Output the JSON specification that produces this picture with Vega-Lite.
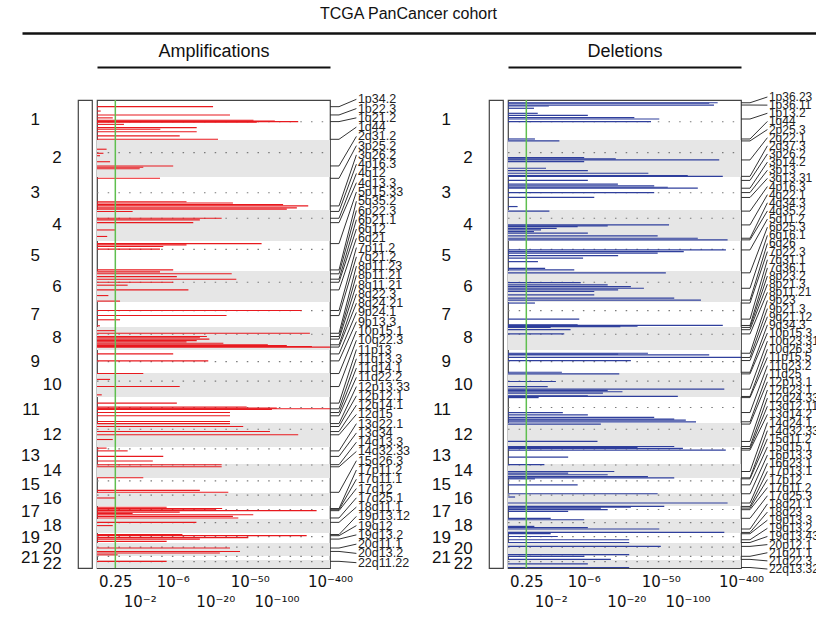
{
  "$schema": "https://vega.github.io/schema/vega-lite/v6.json",
  "background": "white",
  "padding": {"left": 21, "top": 5, "right": 0, "bottom": 0},
  "autosize": {"type": "pad"},
  "bounds": "flush",
  "spacing": 66,
  "config": {"font": "Liberation Sans", "view": {"stroke": null}, "axis": {"labelColor": "#111", "titleColor": "#111"}},
  "datasets": {
    "chroms": [
      {"chr": 1, "s": 0, "e": 246, "cen": 134},
      {"chr": 2, "s": 246, "e": 474, "cen": 324},
      {"chr": 3, "s": 474, "e": 677, "cen": 571},
      {"chr": 4, "s": 677, "e": 868, "cen": 728},
      {"chr": 5, "s": 868, "e": 1053, "cen": 919},
      {"chr": 6, "s": 1053, "e": 1244, "cen": 1122},
      {"chr": 7, "s": 1244, "e": 1397, "cen": 1297},
      {"chr": 8, "s": 1397, "e": 1539, "cen": 1442},
      {"chr": 9, "s": 1539, "e": 1681, "cen": 1611},
      {"chr": 10, "s": 1681, "e": 1828, "cen": 1730},
      {"chr": 11, "s": 1828, "e": 1988, "cen": 1893},
      {"chr": 12, "s": 1988, "e": 2136, "cen": 2027},
      {"chr": 13, "s": 2136, "e": 2241, "cen": 2148},
      {"chr": 14, "s": 2241, "e": 2327, "cen": 2247},
      {"chr": 15, "s": 2327, "e": 2419, "cen": 2345},
      {"chr": 16, "s": 2419, "e": 2499, "cen": 2432},
      {"chr": 17, "s": 2499, "e": 2579, "cen": 2521},
      {"chr": 18, "s": 2579, "e": 2666, "cen": 2602},
      {"chr": 19, "s": 2666, "e": 2727, "cen": 2688},
      {"chr": 20, "s": 2727, "e": 2807, "cen": 2752},
      {"chr": 21, "s": 2807, "e": 2832, "cen": 2810},
      {"chr": 22, "s": 2832, "e": 2881, "cen": 2842}
    ],
    "amp": [
      {"p": 41, "q": 18.8}, {"p": 68, "q": 0.1}, {"p": 92, "q": 29.6}, {"p": 110, "q": 0.5}, {"p": 125, "q": 55}, {"p": 129, "q": 96}, {"p": 133, "q": 176}, {"p": 137, "q": 60},
      {"p": 150, "q": 1.0}, {"p": 170, "q": 12}, {"p": 180, "q": 4.1}, {"p": 195, "q": 12}, {"p": 221, "q": 7.4}, {"p": 242, "q": 21.5},
      {"p": 303, "q": 0.28}, {"p": 328, "q": 0.18}, {"p": 343, "q": 0.08}, {"p": 380, "q": 0.4}, {"p": 406, "q": 6.1}, {"p": 414, "q": 2.29}, {"p": 423, "q": 2.0},
      {"p": 482, "q": 4.06}, {"p": 626, "q": 9.0}, {"p": 634, "q": 32}, {"p": 644, "q": 119}, {"p": 652, "q": 228}, {"p": 664, "q": 170}, {"p": 672, "q": 131},
      {"p": 686, "q": 1.5}, {"p": 728, "q": 23.7}, {"p": 738, "q": 13.1}, {"p": 755, "q": 10.9}, {"p": 800, "q": 0.6}, {"p": 840, "q": 0.3},
      {"p": 884, "q": 68}, {"p": 892, "q": 9.0}, {"p": 902, "q": 4.5}, {"p": 918, "q": 4.06}, {"p": 1046, "q": 6.1},
      {"p": 1058, "q": 4.06}, {"p": 1070, "q": 31}, {"p": 1087, "q": 6.8}, {"p": 1103, "q": 35}, {"p": 1122, "q": 6.1}, {"p": 1140, "q": 1.2}, {"p": 1169, "q": 9.5}, {"p": 1204, "q": 0.34}, {"p": 1238, "q": 0.81},
      {"p": 1296, "q": 192}, {"p": 1327, "q": 27}, {"p": 1353, "q": 0.81}, {"p": 1390, "q": 0.08},
      {"p": 1420, "q": 0.6}, {"p": 1436, "q": 238}, {"p": 1456, "q": 15.9}, {"p": 1464, "q": 13.1}, {"p": 1472, "q": 17}, {"p": 1481, "q": 12}, {"p": 1489, "q": 9}, {"p": 1497, "q": 24.8}, {"p": 1507, "q": 80}, {"p": 1512, "q": 131}, {"p": 1517, "q": 251}, {"p": 1521, "q": 400},
      {"p": 1563, "q": 6.1}, {"p": 1606, "q": 16.5},
      {"p": 1684, "q": 2.29}, {"p": 1720, "q": 0.4}, {"p": 1764, "q": 7.4}, {"p": 1815, "q": 0.13},
      {"p": 1866, "q": 6.8}, {"p": 1890, "q": 46}, {"p": 1897, "q": 101}, {"p": 1901, "q": 400}, {"p": 1905, "q": 89}, {"p": 1924, "q": 29.6}, {"p": 1944, "q": 29.6}, {"p": 1979, "q": 29.6},
      {"p": 1992, "q": 29.6}, {"p": 2010, "q": 42}, {"p": 2041, "q": 84.6}, {"p": 2061, "q": 176}, {"p": 2090, "q": 0.5},
      {"p": 2143, "q": 0.28}, {"p": 2160, "q": 1.2}, {"p": 2194, "q": 4.5},
      {"p": 2222, "q": 3.2}, {"p": 2245, "q": 23.7}, {"p": 2258, "q": 23.7}, {"p": 2325, "q": 2.29},
      {"p": 2403, "q": 13.1}, {"p": 2415, "q": 28.3}, {"p": 2450, "q": 0.6},
      {"p": 2507, "q": 5}, {"p": 2515, "q": 24}, {"p": 2522, "q": 20}, {"p": 2528, "q": 283}, {"p": 2537, "q": 7.4}, {"p": 2545, "q": 1.5}, {"p": 2553, "q": 54.7}, {"p": 2563, "q": 32}, {"p": 2573, "q": 36.9},
      {"p": 2600, "q": 11.9}, {"p": 2620, "q": 0.5},
      {"p": 2675, "q": 8}, {"p": 2682, "q": 219}, {"p": 2694, "q": 48}, {"p": 2703, "q": 13.1}, {"p": 2717, "q": 5},
      {"p": 2758, "q": 29.6}, {"p": 2779, "q": 38.6}, {"p": 2789, "q": 22.6}, {"p": 2800, "q": 0.7},
      {"p": 2840, "q": 5}
    ],
    "del": [
      {"p": 17, "q": 219}, {"p": 20, "q": 176}, {"p": 31, "q": 199}, {"p": 37, "q": 1.86}, {"p": 51, "q": 0.95}, {"p": 82, "q": 1.15}, {"p": 95, "q": 6.8}, {"p": 108, "q": 24.8}, {"p": 117, "q": 48}, {"p": 133, "q": 38.6}, {"p": 240, "q": 1.0},
      {"p": 252, "q": 2.75}, {"p": 355, "q": 6.1}, {"p": 362, "q": 15}, {"p": 369, "q": 228}, {"p": 379, "q": 6.1}, {"p": 420, "q": 1.66}, {"p": 435, "q": 6.8}, {"p": 451, "q": 36}, {"p": 466, "q": 101}, {"p": 470, "q": 250},
      {"p": 495, "q": 6.8}, {"p": 518, "q": 15.9}, {"p": 529, "q": 42}, {"p": 537, "q": 60}, {"p": 543, "q": 131}, {"p": 570, "q": 42}, {"p": 600, "q": 8.2}, {"p": 656, "q": 0.28},
      {"p": 684, "q": 1.9}, {"p": 769, "q": 62}, {"p": 775, "q": 12}, {"p": 779, "q": 5}, {"p": 790, "q": 2.5}, {"p": 800, "q": 1.34}, {"p": 810, "q": 0.95}, {"p": 820, "q": 6.8}, {"p": 837, "q": 46}, {"p": 851, "q": 131}, {"p": 861, "q": 283},
      {"p": 923, "q": 271}, {"p": 933, "q": 91}, {"p": 943, "q": 46}, {"p": 958, "q": 16}, {"p": 974, "q": 5.9}, {"p": 995, "q": 1.16}, {"p": 1036, "q": 1.6}, {"p": 1046, "q": 4.5},
      {"p": 1064, "q": 57}, {"p": 1124, "q": 5.5}, {"p": 1138, "q": 12}, {"p": 1149, "q": 22.6}, {"p": 1159, "q": 32}, {"p": 1169, "q": 16}, {"p": 1179, "q": 8.2}, {"p": 1200, "q": 8.2}, {"p": 1220, "q": 71}, {"p": 1232, "q": 142},
      {"p": 1250, "q": 1.0}, {"p": 1349, "q": 5.25}, {"p": 1384, "q": 5.0}, {"p": 1388, "q": 250}, {"p": 1392, "q": 27}, {"p": 1395, "q": 17},
      {"p": 1400, "q": 2.0}, {"p": 1414, "q": 4.0}, {"p": 1440, "q": 3.25},
      {"p": 1559, "q": 35.6}, {"p": 1565, "q": 16}, {"p": 1569, "q": 176}, {"p": 1585, "q": 400}, {"p": 1604, "q": 22.6}, {"p": 1676, "q": 3},
      {"p": 1686, "q": 16.5}, {"p": 1733, "q": 2.43}, {"p": 1764, "q": 1.78}, {"p": 1780, "q": 260}, {"p": 1788, "q": 12}, {"p": 1796, "q": 18}, {"p": 1805, "q": 10.5}, {"p": 1821, "q": 6.8}, {"p": 1825, "q": 78},
      {"p": 1832, "q": 1.2}, {"p": 1924, "q": 3.1}, {"p": 1938, "q": 6.8}, {"p": 1954, "q": 42}, {"p": 1964, "q": 71}, {"p": 1971, "q": 96}, {"p": 1981, "q": 125},
      {"p": 1995, "q": 9.9}, {"p": 2102, "q": 9}, {"p": 2133, "q": 71},
      {"p": 2140, "q": 27}, {"p": 2145, "q": 89}, {"p": 2155, "q": 270}, {"p": 2198, "q": 3.7},
      {"p": 2245, "q": 1.55}, {"p": 2287, "q": 14.4}, {"p": 2297, "q": 3.7}, {"p": 2307, "q": 12}, {"p": 2318, "q": 35.6}, {"p": 2326, "q": 71},
      {"p": 2332, "q": 1.0}, {"p": 2369, "q": 5},
      {"p": 2424, "q": 46}, {"p": 2444, "q": 0.2}, {"p": 2481, "q": 283},
      {"p": 2502, "q": 54.7}, {"p": 2506, "q": 22.6}, {"p": 2512, "q": 9.9}, {"p": 2522, "q": 12}, {"p": 2533, "q": 3.7}, {"p": 2575, "q": 2.0},
      {"p": 2584, "q": 6.1}, {"p": 2625, "q": 0.97}, {"p": 2633, "q": 6.8}, {"p": 2641, "q": 48}, {"p": 2662, "q": 260},
      {"p": 2670, "q": 2.0}, {"p": 2687, "q": 2.6}, {"p": 2707, "q": 21.6}, {"p": 2724, "q": 21.6},
      {"p": 2748, "q": 50}, {"p": 2799, "q": 21.6},
      {"p": 2809, "q": 6.1}, {"p": 2828, "q": 13.1},
      {"p": 2855, "q": 6.8}, {"p": 2878, "q": 21.6}
    ],
    "ampLab": [
      {"band": "1p34.2", "p": 41}, {"band": "1p22.3", "p": 92}, {"band": "1q21.2", "p": 133}, {"band": "1q44", "p": 242},
      {"band": "2q31.2", "p": 406}, {"band": "3p25.2", "p": 482}, {"band": "3q26.2", "p": 652}, {"band": "4p16.3", "p": 686},
      {"band": "4q12", "p": 728}, {"band": "4q13.3", "p": 755}, {"band": "5p15.33", "p": 884}, {"band": "5q35.2", "p": 1046},
      {"band": "6p22.3", "p": 1070}, {"band": "6p21.1", "p": 1103}, {"band": "6q12", "p": 1122}, {"band": "6q21", "p": 1169},
      {"band": "7p11.2", "p": 1296}, {"band": "7q21.2", "p": 1327}, {"band": "8p11.23", "p": 1436}, {"band": "8p11.21", "p": 1456},
      {"band": "8q11.21", "p": 1472}, {"band": "8q22.3", "p": 1507}, {"band": "8q24.21", "p": 1521}, {"band": "9p24.1", "p": 1563},
      {"band": "9p13.3", "p": 1606}, {"band": "10p15.1", "p": 1684}, {"band": "10q22.3", "p": 1764}, {"band": "11p13", "p": 1866},
      {"band": "11q13.3", "p": 1901}, {"band": "11q14.1", "p": 1924}, {"band": "11q22.2", "p": 1944}, {"band": "12p13.33", "p": 1992},
      {"band": "12p12.1", "p": 2010}, {"band": "12q14.1", "p": 2041}, {"band": "12q15", "p": 2061}, {"band": "13q22.1", "p": 2160},
      {"band": "13q34", "p": 2194}, {"band": "14q13.3", "p": 2245}, {"band": "14q32.33", "p": 2258}, {"band": "15q26.3", "p": 2415},
      {"band": "17p11.2", "p": 2515}, {"band": "17q11.1", "p": 2522}, {"band": "17q12", "p": 2528}, {"band": "17q25.1", "p": 2573},
      {"band": "18q11.1", "p": 2600}, {"band": "19p13.12", "p": 2675}, {"band": "19q12", "p": 2682}, {"band": "19q13.2", "p": 2703},
      {"band": "20q11.1", "p": 2758}, {"band": "20q13.2", "p": 2779}, {"band": "22q11.22", "p": 2840}
    ],
    "delLab": [
      {"band": "1p36.23", "p": 17}, {"band": "1p36.11", "p": 31}, {"band": "1p13.2", "p": 117}, {"band": "1q44", "p": 240},
      {"band": "2p25.3", "p": 252}, {"band": "2q22.1", "p": 369}, {"band": "2q37.3", "p": 470}, {"band": "3p26.2", "p": 495},
      {"band": "3p14.2", "p": 543}, {"band": "3p13", "p": 570}, {"band": "3q13.31", "p": 600}, {"band": "4p16.3", "p": 684},
      {"band": "4q22.1", "p": 769}, {"band": "4q34.3", "p": 851}, {"band": "4q35.2", "p": 861}, {"band": "5q11.2", "p": 923},
      {"band": "6p25.3", "p": 1064}, {"band": "6q16.1", "p": 1159}, {"band": "6q26", "p": 1232}, {"band": "7p22.3", "p": 1250},
      {"band": "7q31.1", "p": 1349}, {"band": "7q36.1", "p": 1388}, {"band": "8p23.2", "p": 1400}, {"band": "8p21.3", "p": 1414},
      {"band": "8p11.21", "p": 1440}, {"band": "9p23", "p": 1559}, {"band": "9p21.3", "p": 1585}, {"band": "9q21.12", "p": 1604},
      {"band": "9q34.3", "p": 1676}, {"band": "10p15.3", "p": 1686}, {"band": "10q23.31", "p": 1780}, {"band": "10q26.3", "p": 1825},
      {"band": "11p15.5", "p": 1832}, {"band": "11q23.2", "p": 1924}, {"band": "11q25", "p": 1981}, {"band": "12p13.1", "p": 1995},
      {"band": "12q23.1", "p": 2102}, {"band": "12q24.33", "p": 2133}, {"band": "13q12.11", "p": 2145}, {"band": "13q14.2", "p": 2155},
      {"band": "14q24.1", "p": 2287}, {"band": "14q32.33", "p": 2326}, {"band": "15q11.2", "p": 2332}, {"band": "15q15.1", "p": 2369},
      {"band": "16p13.3", "p": 2424}, {"band": "16q23.1", "p": 2481}, {"band": "17p13.1", "p": 2502}, {"band": "17p12", "p": 2512},
      {"band": "17q11.2", "p": 2522}, {"band": "17q25.3", "p": 2575}, {"band": "18q21.1", "p": 2641}, {"band": "18q23", "p": 2662},
      {"band": "19p13.3", "p": 2670}, {"band": "19q13.2", "p": 2707}, {"band": "19q13.43", "p": 2724}, {"band": "20p12.1", "p": 2748},
      {"band": "21q21.1", "p": 2809}, {"band": "21q22.3", "p": 2828}, {"band": "22q13.32", "p": 2878}
    ]
  },
  "vconcat": [
    {
      "width": 794, "height": 1,
      "data": {"values": [{}]},
      "mark": {"type": "text", "text": ""},
      "encoding": {
        "x": {"datum": 0, "type": "quantitative", "scale": {"domain": [0, 1]},
          "axis": {"orient": "top", "labels": false, "ticks": false, "grid": false, "domainWidth": 2.5, "domainColor": "#111",
            "title": "TCGA PanCancer cohort", "titleFontSize": 16, "titleFontWeight": "normal", "titlePadding": 12, "titleX": 386}}
      }
    },
    {
      "spacing": 0, "bounds": "flush",
      "hconcat": [
        {
          "width": 56, "height": 468,
          "data": {"name": "chroms"},
          "transform": [{"calculate": "(datum.s + datum.e) / 2", "as": "mid"}],
          "layer": [
            {"transform": [{"filter": "datum.chr % 2 == 1"}],
             "mark": {"type": "text", "align": "right", "baseline": "middle", "fontSize": 17, "color": "#111"},
             "encoding": {"y": {"field": "mid", "type": "quantitative", "scale": {"domain": [0, 2881], "reverse": true, "nice": false, "zero": false}, "axis": null},
               "x": {"datum": 0.32, "type": "quantitative", "scale": {"domain": [0, 1]}, "axis": null},
               "text": {"field": "chr"}}},
            {"transform": [{"filter": "datum.chr % 2 == 0"}],
             "mark": {"type": "text", "align": "right", "baseline": "middle", "fontSize": 17, "color": "#111"},
             "encoding": {"y": {"field": "mid", "type": "quantitative", "axis": null},
               "x": {"datum": 0.71, "type": "quantitative", "axis": null},
               "text": {"field": "chr"}}}
          ]
        },
        {
          "width": 14, "height": 468,
          "view": {"stroke": "#444", "strokeWidth": 1.2},
          "data": {"values": [{}]},
          "mark": {"type": "text", "text": ""},
          "encoding": {}
        },
        {
          "width": 5, "height": 468,
          "data": {"values": [{}]},
          "mark": {"type": "text", "text": ""},
          "encoding": {}
        },
        {
          "width": 233, "height": 468,
          "view": {"stroke": "#444", "strokeWidth": 1.2},
          "resolve": {"axis": {"x": "independent"}},
          "layer": [
            {"data": {"name": "chroms"}, "transform": [{"filter": "datum.chr % 2 == 0"}],
             "mark": {"type": "rect", "color": "#e6e6e6"},
             "encoding": {
               "y": {"field": "s", "type": "quantitative", "scale": {"domain": [0, 2881], "reverse": true, "nice": false, "zero": false}, "axis": null},
               "y2": {"field": "e"},
               "x": {"datum": 0, "type": "quantitative", "scale": {"type": "symlog", "constant": 1, "domain": [0, 400], "nice": false}, "axis": null},
               "x2": {"datum": 400}}},
            {"data": {"name": "chroms"},
             "mark": {"type": "rule", "color": "#7a7a7a", "strokeDash": [1.5, 9.2], "strokeWidth": 1.2},
             "encoding": {"y": {"field": "cen", "type": "quantitative", "axis": null},
               "x": {"datum": 0, "type": "quantitative", "axis": null}, "x2": {"datum": 400}}},
            {"data": {"name": "amp"},
             "mark": {"type": "rule", "color": "#e8191e", "strokeWidth": 1.1},
             "encoding": {"y": {"field": "p", "type": "quantitative", "axis": null},
               "x": {"field": "q", "type": "quantitative",
                 "axis": {"values": [0.602, 2, 6, 20, 50, 100, 400], "domain": false, "ticks": false, "grid": false, "title": null,
                   "labelFont": "DejaVu Sans", "labelFontSize": 15, "labelPadding": 6, "labelLineHeight": 20, "labelFlush": false, "labelOverlap": false, "labelBound": false,
                   "labelExpr": "datum.value == 0.602 ? '0.25' : datum.value == 2 ? ['', '10⁻²'] : datum.value == 6 ? '10⁻⁶' : datum.value == 20 ? ['', '10⁻²⁰'] : datum.value == 50 ? '10⁻⁵⁰' : datum.value == 100 ? ['', '10⁻¹⁰⁰'] : '10⁻⁴⁰⁰'"}},
               "x2": {"datum": 0}}},
            {"data": {"values": [{}]},
             "mark": {"type": "rule", "color": "#5fbf4f", "strokeWidth": 1.5},
             "encoding": {"x": {"datum": 0.602, "type": "quantitative",
               "axis": {"orient": "top", "offset": 33, "labels": false, "ticks": false, "grid": false, "domainWidth": 2, "domainColor": "#111",
                 "title": "Amplifications", "titleFontSize": 18, "titleFontWeight": "normal", "titlePadding": 7}}}}
          ]
        },
        {
          "width": 30, "height": 468,
          "data": {"name": "ampLab"},
          "transform": [
            {"window": [{"op": "row_number", "as": "r"}], "sort": [{"field": "p"}]},
            {"calculate": "-4.3 + (datum.r - 1) * 57.05", "as": "slot"}
          ],
          "layer": [
            {"mark": {"type": "rule", "color": "#333", "strokeWidth": 1},
             "encoding": {"y": {"field": "p", "type": "quantitative", "scale": {"domain": [0, 2881], "reverse": true, "nice": false, "zero": false}, "axis": null},
               "x": {"datum": 0, "type": "quantitative", "scale": {"domain": [0, 1]}, "axis": null}, "x2": {"datum": 0.3}}},
            {"mark": {"type": "rule", "color": "#333", "strokeWidth": 1},
             "encoding": {"y": {"field": "p", "type": "quantitative", "axis": null}, "y2": {"field": "slot"},
               "x": {"datum": 0.3, "type": "quantitative", "axis": null}, "x2": {"datum": 0.88}}},
            {"mark": {"type": "text", "align": "left", "baseline": "middle", "fontSize": 12.5, "color": "#222"},
             "encoding": {"y": {"field": "slot", "type": "quantitative", "axis": null},
               "x": {"datum": 0.93, "type": "quantitative", "axis": null}, "text": {"field": "band"}}}
          ]
        },
        {
          "width": 73, "height": 468,
          "data": {"values": [{}]},
          "mark": {"type": "text", "text": ""},
          "encoding": {}
        },
        {
          "width": 56, "height": 468,
          "data": {"name": "chroms"},
          "transform": [{"calculate": "(datum.s + datum.e) / 2", "as": "mid"}],
          "layer": [
            {"transform": [{"filter": "datum.chr % 2 == 1"}],
             "mark": {"type": "text", "align": "right", "baseline": "middle", "fontSize": 17, "color": "#111"},
             "encoding": {"y": {"field": "mid", "type": "quantitative", "scale": {"domain": [0, 2881], "reverse": true, "nice": false, "zero": false}, "axis": null},
               "x": {"datum": 0.32, "type": "quantitative", "scale": {"domain": [0, 1]}, "axis": null},
               "text": {"field": "chr"}}},
            {"transform": [{"filter": "datum.chr % 2 == 0"}],
             "mark": {"type": "text", "align": "right", "baseline": "middle", "fontSize": 17, "color": "#111"},
             "encoding": {"y": {"field": "mid", "type": "quantitative", "axis": null},
               "x": {"datum": 0.71, "type": "quantitative", "axis": null},
               "text": {"field": "chr"}}}
          ]
        },
        {
          "width": 14, "height": 468,
          "view": {"stroke": "#444", "strokeWidth": 1.2},
          "data": {"values": [{}]},
          "mark": {"type": "text", "text": ""},
          "encoding": {}
        },
        {
          "width": 5, "height": 468,
          "data": {"values": [{}]},
          "mark": {"type": "text", "text": ""},
          "encoding": {}
        },
        {
          "width": 233, "height": 468,
          "view": {"stroke": "#444", "strokeWidth": 1.2},
          "resolve": {"axis": {"x": "independent"}},
          "layer": [
            {"data": {"name": "chroms"}, "transform": [{"filter": "datum.chr % 2 == 0"}],
             "mark": {"type": "rect", "color": "#e6e6e6"},
             "encoding": {
               "y": {"field": "s", "type": "quantitative", "scale": {"domain": [0, 2881], "reverse": true, "nice": false, "zero": false}, "axis": null},
               "y2": {"field": "e"},
               "x": {"datum": 0, "type": "quantitative", "scale": {"type": "symlog", "constant": 1, "domain": [0, 400], "nice": false}, "axis": null},
               "x2": {"datum": 400}}},
            {"data": {"name": "chroms"},
             "mark": {"type": "rule", "color": "#7a7a7a", "strokeDash": [1.5, 9.2], "strokeWidth": 1.2},
             "encoding": {"y": {"field": "cen", "type": "quantitative", "axis": null},
               "x": {"datum": 0, "type": "quantitative", "axis": null}, "x2": {"datum": 400}}},
            {"data": {"name": "del"},
             "mark": {"type": "rule", "color": "#2f3f9c", "strokeWidth": 1.2},
             "encoding": {"y": {"field": "p", "type": "quantitative", "axis": null},
               "x": {"field": "q", "type": "quantitative",
                 "axis": {"values": [0.602, 2, 6, 20, 50, 100, 400], "domain": false, "ticks": false, "grid": false, "title": null,
                   "labelFont": "DejaVu Sans", "labelFontSize": 15, "labelPadding": 6, "labelLineHeight": 20, "labelFlush": false, "labelOverlap": false, "labelBound": false,
                   "labelExpr": "datum.value == 0.602 ? '0.25' : datum.value == 2 ? ['', '10⁻²'] : datum.value == 6 ? '10⁻⁶' : datum.value == 20 ? ['', '10⁻²⁰'] : datum.value == 50 ? '10⁻⁵⁰' : datum.value == 100 ? ['', '10⁻¹⁰⁰'] : '10⁻⁴⁰⁰'"}},
               "x2": {"datum": 0}}},
            {"data": {"values": [{}]},
             "mark": {"type": "rule", "color": "#5fbf4f", "strokeWidth": 1.5},
             "encoding": {"x": {"datum": 0.602, "type": "quantitative",
               "axis": {"orient": "top", "offset": 33, "labels": false, "ticks": false, "grid": false, "domainWidth": 2, "domainColor": "#111",
                 "title": "Deletions", "titleFontSize": 18, "titleFontWeight": "normal", "titlePadding": 7}}}}
          ]
        },
        {
          "width": 30, "height": 468,
          "data": {"name": "delLab"},
          "transform": [
            {"window": [{"op": "row_number", "as": "r"}], "sort": [{"field": "p"}]},
            {"calculate": "-18.5 + (datum.r - 1) * 50.1", "as": "slot"}
          ],
          "layer": [
            {"mark": {"type": "rule", "color": "#333", "strokeWidth": 1},
             "encoding": {"y": {"field": "p", "type": "quantitative", "scale": {"domain": [0, 2881], "reverse": true, "nice": false, "zero": false}, "axis": null},
               "x": {"datum": 0, "type": "quantitative", "scale": {"domain": [0, 1]}, "axis": null}, "x2": {"datum": 0.3}}},
            {"mark": {"type": "rule", "color": "#333", "strokeWidth": 1},
             "encoding": {"y": {"field": "p", "type": "quantitative", "axis": null}, "y2": {"field": "slot"},
               "x": {"datum": 0.3, "type": "quantitative", "axis": null}, "x2": {"datum": 0.88}}},
            {"mark": {"type": "text", "align": "left", "baseline": "middle", "fontSize": 12, "color": "#222"},
             "encoding": {"y": {"field": "slot", "type": "quantitative", "axis": null},
               "x": {"datum": 0.93, "type": "quantitative", "axis": null}, "text": {"field": "band"}}}
          ]
        }
      ]
    }
  ]
}
